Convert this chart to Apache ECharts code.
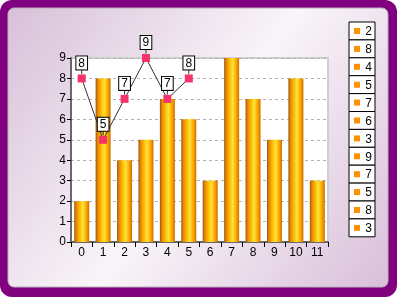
<!DOCTYPE html>
<html>
<head>
<meta charset="utf-8">
<script src="https://cdn.jsdelivr.net/npm/echarts@6/dist/echarts.min.js"></script>
<style>html,body{margin:0;padding:0;background:#fff;}#c{width:400px;height:300px;}</style>
</head>
<body>
<div id="c"></div>
<script>
var categories = ['0','1','2','3','4','5','6','7','8','9','10','11'];
var barValues = [2, 8, 4, 5, 7, 6, 3, 9, 7, 5, 8, 3];
var lineValues = [8, 5, 7, 9, 7, 8];
var yTicks = [0,1,2,3,4,5,6,7,8,9];

var chart = echarts.init(document.getElementById('c'), null, {renderer: 'canvas'});

var legendChildren = [];
var lx = 349, ly = 22, lw = 26, lh = 17.9;
barValues.forEach(function (v, i) {
  var y = ly + i * lh;
  legendChildren.push({type: 'rect', shape: {x: lx, y: y, width: lw, height: lh}, style: {fill: '#fff', stroke: '#000', lineWidth: 1}});
  legendChildren.push({type: 'rect', shape: {x: lx + 5, y: y + 6, width: 6, height: 6}, style: {fill: '#ff9000'}});
  legendChildren.push({type: 'text', x: lx + lw - 3, y: y + lh / 2 + 1, style: {text: String(v), fill: '#000', font: '12px "Liberation Sans", Arial', align: 'right', verticalAlign: 'middle'}});
});

var barGrad = new echarts.graphic.LinearGradient(0, 0, 1, 0, [
  {offset: 0, color: '#a0560c'},
  {offset: 0.15, color: '#e88a00'},
  {offset: 0.45, color: '#ffcc10'},
  {offset: 0.58, color: '#ffe23a'},
  {offset: 0.8, color: '#ffa800'},
  {offset: 1, color: '#c87000'}
]);

chart.setOption({
  animation: false,
  backgroundColor: 'transparent',
  textStyle: {fontFamily: '"Liberation Sans", Arial', fontSize: 12},
  graphic: [
    {type: 'rect', z: -20, shape: {x: 0, y: 0, width: 397, height: 297, r: 12}, style: {fill: '#800080'}},
    {type: 'rect', z: -19, shape: {x: 8, y: 8, width: 380, height: 279, r: 6},
      style: {fill: new echarts.graphic.LinearGradient(0, 0, 1, 1, [
        {offset: 0, color: '#d8c0d8'},
        {offset: 0.5, color: '#f9f5f9'},
        {offset: 1, color: '#d9bfd9'}
      ]), stroke: '#b8b0b8', lineWidth: 1}},
    {type: 'group', z: 100, children: legendChildren}
  ],
  grid: {left: 71, top: 58, right: 72, bottom: 58, show: true, backgroundColor: '#ffffff', borderColor: '#cfcfcf', borderWidth: 2},
  xAxis: {
    type: 'category', data: categories, boundaryGap: true,
    axisLine: {show: true, lineStyle: {color: '#686868', width: 2}},
    axisTick: {show: true, length: 5, alignWithLabel: false, lineStyle: {color: '#000', width: 1}},
    axisLabel: {color: '#000', fontSize: 12, margin: 5, interval: 0},
    splitLine: {show: false}
  },
  yAxis: {
    type: 'value', min: 0, max: 9, interval: 1,
    axisLine: {show: true, lineStyle: {color: '#686868', width: 2}},
    axisTick: {show: true, length: 4, lineStyle: {color: '#000', width: 1}},
    axisLabel: {color: '#000', fontSize: 12, margin: 5, formatter: function (v) { return yTicks.indexOf(v) >= 0 ? String(v) : ''; }},
    splitLine: {show: true, lineStyle: {color: '#b4b4b4', type: [3, 3], width: 1}}
  },
  series: [
    {
      type: 'bar', data: barValues, barWidth: 15,
      itemStyle: {color: barGrad}
    },
    {
      type: 'scatter', data: lineValues, symbol: 'rect', symbolSize: [1, 5], symbolOffset: [0, -7],
      itemStyle: {color: '#000'}, z: 4, silent: true
    },
    {
      type: 'line', data: lineValues, symbol: 'rect', symbolSize: 8, z: 5,
      lineStyle: {color: '#333', width: 1},
      itemStyle: {color: '#f4336b'},
      label: {show: true, position: 'top', distance: 5, color: '#000', fontSize: 12, lineHeight: 12,
        backgroundColor: '#fff', borderColor: '#000', borderWidth: 1, padding: [1, 2, 0, 2]}
    }
  ]
});
</script>
</body>
</html>
